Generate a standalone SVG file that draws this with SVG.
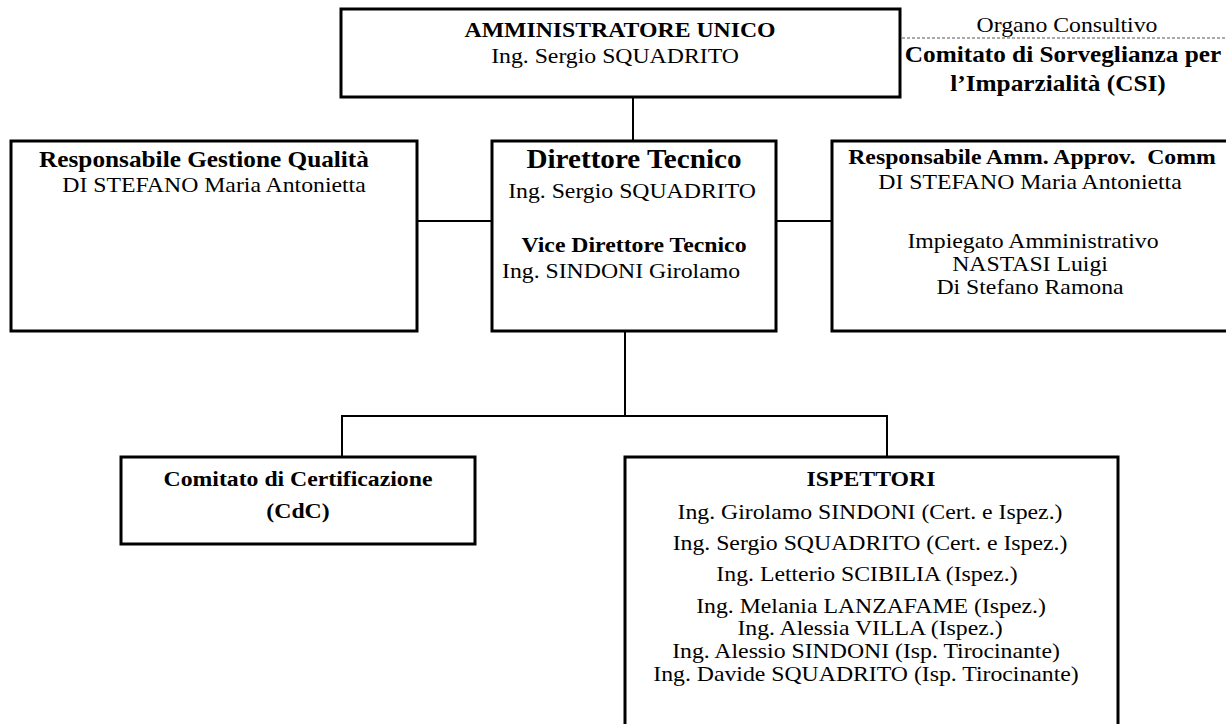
<svg xmlns="http://www.w3.org/2000/svg" width="1226" height="724" viewBox="0 0 1226 724">
<style>
.box{fill:#fff;stroke:#000;stroke-width:3}
.con{stroke:#000;stroke-width:2;fill:none}
.dash{stroke:#555;stroke-width:1;stroke-dasharray:3 2;fill:none}
text{font-family:"Liberation Serif","Times New Roman",serif;fill:#000;text-anchor:middle;font-size:22px}
.b{font-weight:bold}
.bl{font-weight:bold;font-size:23.4px}
.big{font-weight:bold;font-size:27px}
</style>
<rect width="1226" height="724" fill="#fff"/>
<g id="connectors">
<line class="con" x1="633" y1="97" x2="633" y2="141"/>
<line class="con" x1="417" y1="221" x2="492" y2="221"/>
<line class="con" x1="776" y1="221" x2="832" y2="221"/>
<line class="con" x1="625" y1="331" x2="625" y2="416"/>
<line class="con" x1="341" y1="416" x2="888" y2="416"/>
<line class="con" x1="342" y1="416" x2="342" y2="457"/>
<line class="con" x1="887" y1="416" x2="887" y2="457"/>
<line class="dash" x1="902" y1="38" x2="1226" y2="38"/>
</g>
<g id="amministratore">
<rect class="box" x="341" y="9" width="559" height="88"/>
<text class="b" transform="translate(620 37) scale(1.08 1)">AMMINISTRATORE UNICO</text>
<text transform="translate(615 63) scale(1.08 1)">Ing. Sergio SQUADRITO</text>
</g>
<g id="csi">
<text transform="translate(1067 32) scale(1.08 1)">Organo Consultivo</text>
<text class="bl" transform="translate(1063 62) scale(1.08 1)">Comitato di Sorveglianza per</text>
<text class="bl" transform="translate(1058 91) scale(1.08 1)">l’Imparzialità (CSI)</text>
</g>
<g id="qualita">
<rect class="box" x="11" y="141" width="406" height="190"/>
<text class="bl" transform="translate(204 167) scale(1.08 1)">Responsabile Gestione Qualità</text>
<text transform="translate(214 192) scale(1.08 1)">DI STEFANO Maria Antonietta</text>
</g>
<g id="direttore">
<rect class="box" x="492" y="141" width="284" height="190"/>
<text class="big" transform="translate(634 168) scale(1.08 1)">Direttore Tecnico</text>
<text transform="translate(632 198) scale(1.08 1)">Ing. Sergio SQUADRITO</text>
<text class="b" transform="translate(634 252) scale(1.08 1)">Vice Direttore Tecnico</text>
<text transform="translate(621 278) scale(1.08 1)">Ing. SINDONI Girolamo</text>
</g>
<g id="amministrazione">
<rect class="box" x="832" y="141" width="420" height="190"/>
<text class="b" transform="translate(1032 164) scale(1.08 1)">Responsabile Amm. Approv.&#160; Comm</text>
<text transform="translate(1030 189) scale(1.08 1)">DI STEFANO Maria Antonietta</text>
<text transform="translate(1033 248) scale(1.08 1)">Impiegato Amministrativo</text>
<text transform="translate(1030 271) scale(1.08 1)">NASTASI Luigi</text>
<text transform="translate(1030 294) scale(1.08 1)">Di Stefano Ramona</text>
</g>
<g id="cdc">
<rect class="box" x="121" y="457" width="354" height="87"/>
<text class="b" transform="translate(298 486) scale(1.08 1)">Comitato di Certificazione</text>
<text class="b" transform="translate(298 518) scale(1.08 1)">(CdC)</text>
</g>
<g id="ispettori">
<rect class="box" x="625" y="457" width="493" height="300"/>
<text class="b" transform="translate(871 486) scale(1.08 1)">ISPETTORI</text>
<text transform="translate(870 519) scale(1.08 1)">Ing. Girolamo SINDONI (Cert. e Ispez.)</text>
<text transform="translate(870 550) scale(1.08 1)">Ing. Sergio SQUADRITO (Cert. e Ispez.)</text>
<text transform="translate(867 581) scale(1.08 1)">Ing. Letterio SCIBILIA (Ispez.)</text>
<text transform="translate(871 613) scale(1.08 1)">Ing. Melania LANZAFAME (Ispez.)</text>
<text transform="translate(870 635) scale(1.08 1)">Ing. Alessia VILLA (Ispez.)</text>
<text transform="translate(866 658) scale(1.08 1)">Ing. Alessio SINDONI (Isp. Tirocinante)</text>
<text transform="translate(866 681) scale(1.08 1)">Ing. Davide SQUADRITO (Isp. Tirocinante)</text>
</g>
</svg>
